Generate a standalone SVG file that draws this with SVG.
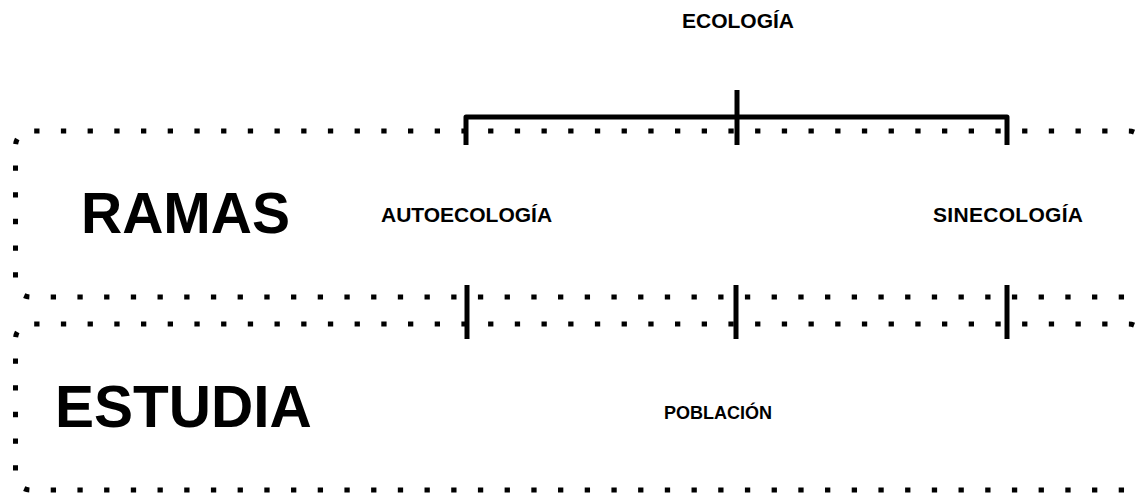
<svg xmlns="http://www.w3.org/2000/svg" width="1136" height="493" viewBox="0 0 1136 493">
<style>
.box{fill:none;stroke:#000;stroke-width:5;stroke-dasharray:5.3 21.4;stroke-dashoffset:-3.7}
.ln{fill:none;stroke:#000;stroke-width:5;stroke-linejoin:round}
.big{font-family:"Liberation Sans",Arial,sans-serif;font-weight:bold;fill:#000}
.sm{font-family:"Liberation Sans",Arial,sans-serif;font-weight:bold;font-size:21px;fill:#000}
</style>
<rect width="1136" height="493" fill="#fff"/>
<g id="box-ramas">
<rect class="box" x="15.5" y="131" width="1128" height="166" rx="15"/>
<text class="big" x="81" y="233" font-size="57">RAMAS</text>
</g>
<g id="box-estudia">
<rect class="box" x="15.5" y="324" width="1128" height="166" rx="15"/>
<text class="big" x="55" y="427" font-size="58.5">ESTUDIA</text>
</g>
<g id="ecologia"><text class="sm" x="682" y="28">ECOLOGÍA</text></g>
<g id="autoecologia"><text class="sm" x="381" y="222">AUTOECOLOGÍA</text></g>
<g id="sinecologia"><text class="sm" x="933" y="222" textLength="150">SINECOLOGÍA</text></g>
<g id="poblacion"><text class="sm" x="664" y="419" style="font-size:18px">POBLACIÓN</text></g>
<g id="connectors">
<path class="ln" d="M466,145 V117 H1007 V145"/>
<path class="ln" d="M737,90 V145"/>
<path class="ln" d="M467,285 V339"/>
<path class="ln" d="M736,285 V339"/>
<path class="ln" d="M1007,285 V339"/>
</g>
</svg>
